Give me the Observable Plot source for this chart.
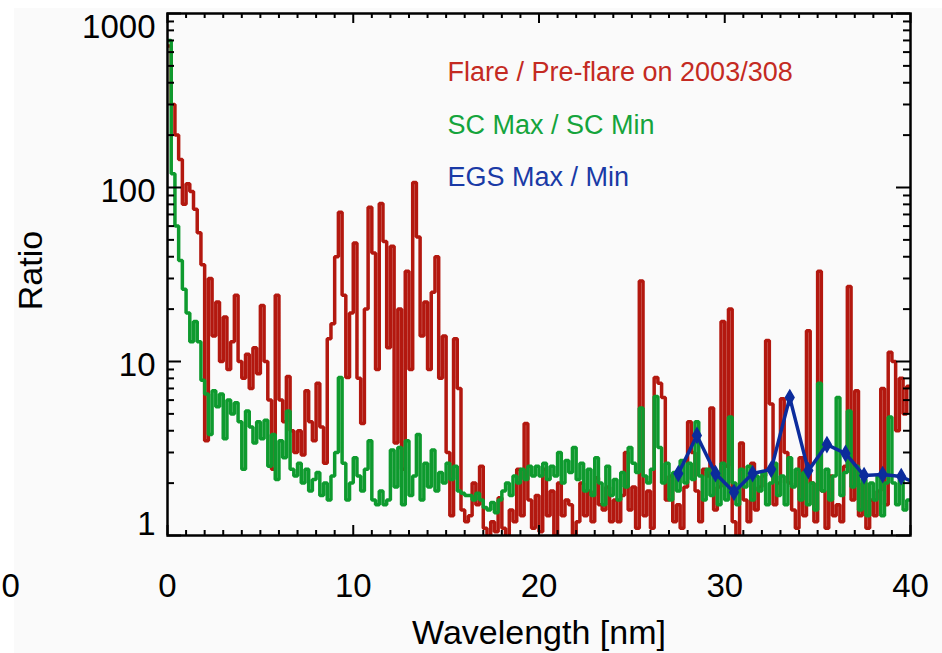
<!DOCTYPE html>
<html><head><meta charset="utf-8">
<script src="https://cdn.jsdelivr.net/npm/d3@7"></script>
<script src="https://cdn.jsdelivr.net/npm/@observablehq/plot@0.6"></script>
<style>
html,body{margin:0;padding:0;background:#fff;}
#wrap{width:942px;height:653px;background:#fafafa;box-shadow:inset 14px 8px 0 #fff;}
#wrap svg{display:block;}
</style></head><body><div id="wrap"></div>
<script>
// Bin start wavelength (nm) and bin width for the two spectral ratios
const binStart = 0;
const binWidth = 0.2;
const wavelengthEnd = 40;

// Flare / Pre-flare on 2003/308 (one value per 0.2 nm bin, 0 – 39.8 nm)
const flareRatio = [
  650, 300, 200, 145, 80, 105, 95, 75, 55, 36,
  3.5, 30, 14, 22, 10, 18, 9, 13, 24, 10,
  8, 11, 7, 12, 8.5, 21, 10, 6, 2.4, 24,
  6, 4.5, 8.2, 4, 3, 4, 2.9, 6.8, 4.5, 3.5,
  7.5, 4.2, 2.6, 13.5, 16.5, 40, 72, 24, 8.1, 19,
  48, 8, 4.4, 20, 77, 42, 9, 81, 49, 12,
  46, 3.4, 20, 2.4, 33, 9, 107, 52, 14, 22,
  9, 25, 40, 8, 14, 3, 1.3, 13.5, 7, 1.4,
  1.2, 1.3, 2.0, 1.5, 2.5, 1.1, 0.9, 1.2, 1.05, 1.65,
  1.1, 0.95, 1.4, 1.2, 2.4, 1.3, 4.4, 1.6, 1.1, 1.7,
  1.05, 2.4, 1.3, 1.8, 1.0, 2.0, 1.3, 1.6, 1.5, 1.0,
  1.2, 2.0, 1.3, 1.8, 1.2, 2.15, 1.5, 1.4, 1.9, 1.2,
  1.6, 1.2, 1.7, 3.0, 1.4, 1.9, 1.1, 29, 1.3, 1.8,
  1.1, 8.1, 7.5, 6.2, 1.6, 2.2, 1.2, 1.5, 1.1, 1.9,
  4.5, 3.0, 1.8, 1.2, 2.4, 2.2, 5.4, 1.4, 1.9, 17,
  2.5, 20, 1.2, 0.9, 3.4, 1.6, 1.2, 2.6, 1.4, 1.9,
  2.2, 13.2, 5.7, 1.5, 2.0, 6.1, 3.0, 2.0, 1.4, 1.1,
  2.8, 1.3, 15, 2.0, 1.2, 33, 1.8, 1.1, 2.2, 1.3,
  1.5, 1.2, 2.5, 27, 1.6, 6.8, 1.3, 2.0, 1.1, 1.6,
  1.3, 1.8, 7.0, 1.5, 11.3, 10, 4, 8, 5, 7.2
];

// SC Max / SC Min (one value per 0.2 nm bin)
const scRatio = [
  700, 120, 60, 38, 26, 19, 13, 17, 13, 7.8,
  6.5, 3.8, 6.8, 5.5, 6.5, 3.6, 6.0, 5.0, 5.8, 4.5,
  2.4, 5.2, 4.2, 3.4, 4.5, 3.6, 4.6, 2.5, 3.8, 2.1,
  3.5, 2.8, 5.2, 2.4, 2.2, 2.6, 2.0, 2.4, 1.8, 2.1,
  2.3, 1.7, 2.0, 1.6, 2.2, 3.0, 8.1, 2.6, 1.6, 2.0,
  2.8, 2.2, 1.8, 2.4, 3.5, 1.6, 1.5, 1.8, 1.5, 1.6,
  3.1, 1.9, 3.2, 1.5, 3.5, 1.7, 2.2, 3.8, 1.6, 2.6,
  1.9, 3.1, 1.8, 2.3, 2.0, 2.6, 2.1, 2.5, 1.8, 1.75,
  1.7, 1.7, 1.6, 1.75, 1.6, 1.45, 1.4, 1.55, 1.35, 1.6,
  1.8, 2.0, 1.7, 2.2, 2.0, 2.4, 2.1, 2.5, 2.2, 2.5,
  2.2, 2.6, 2.1, 2.5, 2.2, 3.0, 2.0, 2.7, 2.3, 3.2,
  2.1, 2.6, 1.8, 2.4, 1.7, 2.8, 2.0, 1.5, 2.5, 1.7,
  2.1, 1.6, 2.3, 1.9, 3.2, 2.6, 2.3, 5.4, 2.2, 2.0,
  2.4, 6.3, 3.2, 2.0, 2.6, 1.6, 2.3, 1.8, 2.7, 2.0,
  2.6, 2.1, 4.5, 2.2, 1.6, 2.4, 1.7, 2.2, 1.5, 2.6,
  1.6, 4.8, 2.0, 1.5, 2.4, 1.9, 2.5, 1.6, 2.2, 1.8,
  2.3, 1.5, 2.0, 2.6, 1.7, 2.2, 1.5, 2.8, 1.9, 2.4,
  1.6, 2.3, 1.5, 2.0, 1.4, 7.5, 1.8, 2.4, 1.6, 2.2,
  6.2, 1.7, 2.3, 5.2, 1.9, 2.5, 1.4, 2.1, 1.3, 2.0,
  1.6, 2.2, 1.3, 2.0, 4.8, 2.0, 1.5, 2.1, 1.4, 1.6
];

// EGS Max / Min
const egsWavelength = [27.5, 28.5, 29.5, 30.5, 31.5, 32.5, 33.5, 34.5, 35.5, 36.5, 37.5, 38.5, 39.5, 40.5];
const egsRatio = [2.27, 3.76, 2.27, 1.77, 2.27, 2.4, 6.2, 2.36, 3.33, 2.96, 2.21, 2.24, 2.18, 1.95];

// Axes and legend
const xMajorTicks = [0, 10, 20, 30, 40];
const yMajorTicks = [1, 10, 100, 1000];
const legendLabels = ["Flare / Pre-flare on 2003/308", "SC Max / SC Min", "EGS Max / Min"];
const xTitle = "Wavelength [nm]";
const yTitle = "Ratio";

// ---------- build tables ----------
function stepRows(values) {
  const rows = values.map((v, i) => ({wl: binStart + i * binWidth, v}));
  rows.push({wl: wavelengthEnd, v: values[values.length - 1]});
  return rows;
}
const flareRows = stepRows(flareRatio);
const scRows = stepRows(scRatio);
const egsRows = egsWavelength.map((wl, i) => ({wl, v: egsRatio[i]}));

const xMinor = d3.range(1, 40).filter(d => d % 10 !== 0);
const yMinor = [1, 10, 100].flatMap(dec => d3.range(2, 10).map(k => k * dec));

const W = 942, H = 653, mL = 167, mR = 32, mT = 13, mB = 118;
const innerW = W - mL - mR, innerH = H - mT - mB;
const FONT = "'Liberation Sans', Arial, Helvetica, sans-serif";
const RED = "#b3180f", GREEN = "#0e9a2e", BLUE = "#0c2c9c";
const legendColors = ["#c42a22", "#15a43c", "#1a3aa6"];
const legendDy = [59, 112, 164];

const tickStyle = {stroke: "#000", strokeWidth: 2};
const fmt = d => String(d);
const TICKFONT = 33;

const chart = Plot.plot({
  width: W, height: H,
  marginLeft: mL, marginRight: mR, marginTop: mT, marginBottom: mB,
  style: {background: "transparent", fontFamily: FONT, color: "#000", overflow: "visible"},
  x: {domain: [0, 40]},
  y: {type: "log", domain: [1, 1000]},
  marks: [
    Plot.line(flareRows, {x: "wl", y: "v", curve: "step-after", stroke: RED, strokeWidth: 3.5, strokeLinejoin: "miter", clip: true}),
    Plot.line(scRows, {x: "wl", y: "v", curve: "step-after", stroke: GREEN, strokeWidth: 3.5, strokeLinejoin: "miter", clip: true}),
    Plot.line(egsRows, {x: "wl", y: "v", stroke: BLUE, strokeWidth: 3.5, clip: true}),
    Plot.dot(egsRows, {x: "wl", y: "v", symbol: "diamond", r: 4.5, fill: BLUE, stroke: BLUE, strokeWidth: 1.5, clip: true}),
    // inward ticks
    Plot.tickX(xMajorTicks, {x: d => d, insetTop: innerH - 10, ...tickStyle}),
    Plot.tickX(xMajorTicks, {x: d => d, insetBottom: innerH - 10, ...tickStyle}),
    Plot.tickX(xMinor, {x: d => d, insetTop: innerH - 5, ...tickStyle}),
    Plot.tickX(xMinor, {x: d => d, insetBottom: innerH - 5, ...tickStyle}),
    Plot.tickY(yMajorTicks, {y: d => d, insetRight: innerW - 14, ...tickStyle}),
    Plot.tickY(yMajorTicks, {y: d => d, insetLeft: innerW - 14, ...tickStyle}),
    Plot.tickY(yMinor, {y: d => d, insetRight: innerW - 7, ...tickStyle}),
    Plot.tickY(yMinor, {y: d => d, insetLeft: innerW - 7, ...tickStyle}),
    Plot.frame({stroke: "#000", strokeWidth: 2.5}),
    // tick labels
    Plot.axisX(xMajorTicks, {tickSize: 0, tickPadding: 38, fontSize: TICKFONT, label: null, tickFormat: fmt}),
    Plot.axisY([10, 100], {tickSize: 0, tickPadding: 12, fontSize: TICKFONT, label: null, tickFormat: fmt, dy: 4}),
    Plot.axisY([1000], {tickSize: 0, tickPadding: 12, fontSize: TICKFONT, label: null, tickFormat: fmt, dy: 14}),
    Plot.axisY([1], {tickSize: 0, tickPadding: 12, fontSize: TICKFONT, label: null, tickFormat: fmt, dy: -11}),
    Plot.text(["0"], {text: d => d, frameAnchor: "bottom-left", textAnchor: "start", dx: -166, dy: 51, fontSize: TICKFONT, lineAnchor: "middle"}),
    // axis titles
    Plot.text([yTitle], {text: d => d, frameAnchor: "left", textAnchor: "middle", rotate: -90, dx: -136, dy: -4, fontSize: 34, lineAnchor: "middle"}),
    Plot.text([xTitle], {text: d => d, frameAnchor: "bottom", textAnchor: "middle", dy: 98, fontSize: 34, lineAnchor: "middle"}),
    // legend
    ...legendLabels.map((label, i) =>
      Plot.text([label], {text: d => d, frameAnchor: "top-left", dx: 280, dy: legendDy[i],
        textAnchor: "start", lineAnchor: "middle", fontSize: 27, fill: legendColors[i]}))
  ]
});
document.getElementById("wrap").appendChild(chart);
</script>
</body></html>
